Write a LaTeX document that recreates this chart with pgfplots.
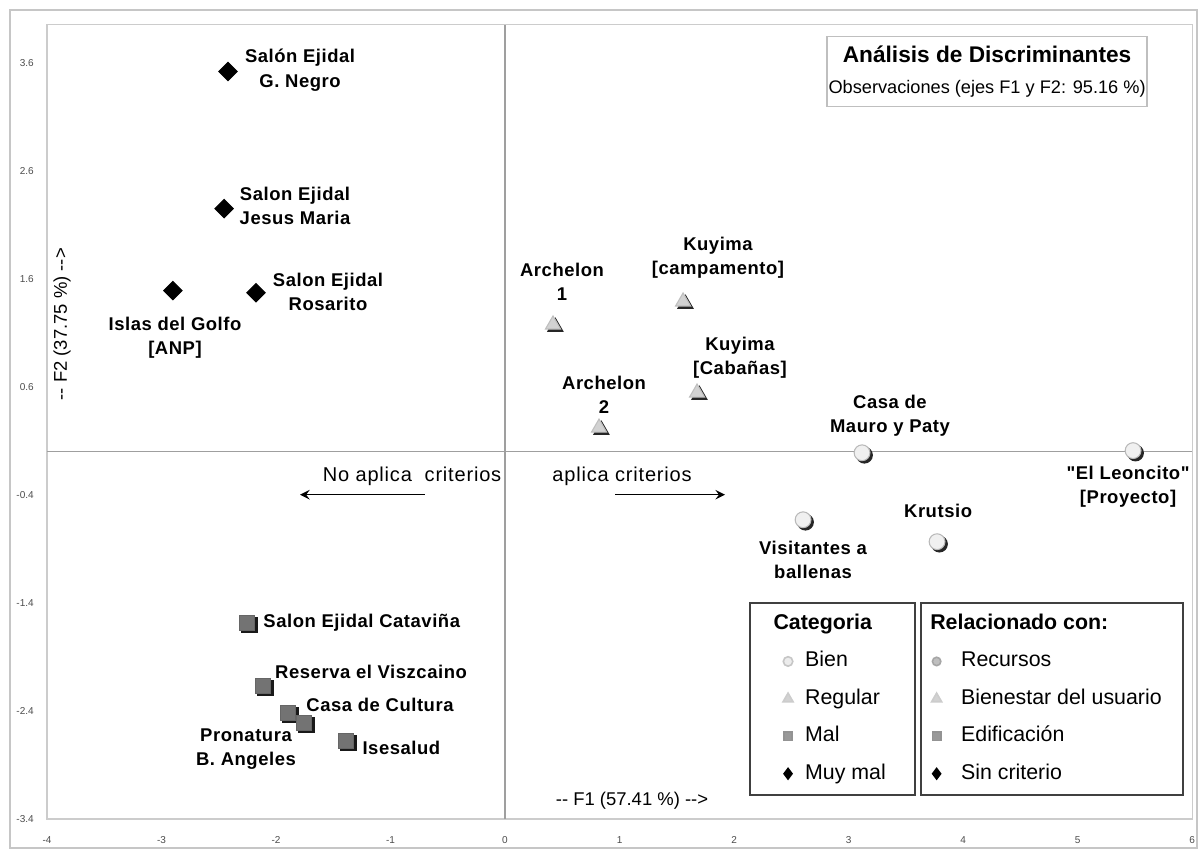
\documentclass[border=0pt]{standalone}
\usepackage{fontspec}
\setmainfont{Liberation Sans}
\usepackage{pgfplots}
\usepackage{pgfplotstable}
\pgfplotsset{compat=1.18}
\newfontfamily\lblfam{Liberation Sans}[LetterSpace=3]
\newfontfamily\arrfam{Liberation Sans}[LetterSpace=4]
\tikzset{lbl/.style={font=\lblfam\bfseries\fontsize{7}{9.3}\selectfont, inner sep=0pt}}

% observaciones por categoria (F1, F2)
\pgfplotstableread{
x y
3.118 -0.010
5.485 0.010
2.603 -0.630
3.773 -0.833
}\bien
\pgfplotstableread{
x y
0.419 1.176
1.555 1.389
1.677 0.546
0.821 0.222
}\regular
\pgfplotstableread{
x y
-2.253 -1.583
-2.114 -2.167
-1.895 -2.417
-1.755 -2.509
-1.389 -2.676
}\mal
\pgfplotstableread{
x y
-2.419 3.519
-2.454 2.250
-2.900 1.491
-2.175 1.472
}\muymal

\begin{document}
\begin{tikzpicture}
\useasboundingbox (-0.6267,-0.4533) rectangle (15.373,10.92);
\draw[gray!45, line width=0.8pt] (-0.4933,-0.3867) rectangle (15.333,10.787);

\begin{axis}[
  at={(0,0)}, anchor=south west,
  scale only axis,
  width=15.267cm, height=10.587cm,
  xmin=-4, xmax=6, ymin=-3.4, ymax=3.95,
  xtick={-4,-3,...,6},
  ytick={-3.4,-2.4,-1.4,-0.4,0.6,1.6,2.6,3.6},
  /pgf/number format/assume math mode=true,
  tick label style={font=\fontsize{3.8}{4}\selectfont, text=black!70},
  xticklabel style={yshift=-3pt},
  yticklabel style={xshift=-1.5pt, /pgf/number format/fixed, /pgf/number format/fixed zerofill, /pgf/number format/precision=1},
  tick style={draw=none},
  axis line style={gray!40},
  extra x ticks={0}, extra x tick labels={},
  extra y ticks={0}, extra y tick labels={},
  extra tick style={grid=major, major grid style={gray!75, line width=0.6pt}},
  clip=false,
  legend cell align=left,
  legend image code/.code={\path[draw=none, fill=none] (-4pt,0pt) -- (4pt,0pt); \draw[#1] plot coordinates {(0pt,0pt)};},
  legend style={at={(0.6131,0.2733)}, anchor=north west, draw=black!75, line width=0.6pt,
    fill=white, inner xsep=10.5pt, inner ysep=3.65pt, row sep=5.4pt, column sep=2pt,
    font=\fontsize{8.1}{9}\selectfont,
    nodes={inner sep=0.5pt, text height=6pt, text depth=1.8pt}},
]
% sombras y marcas
\addplot[forget plot, only marks, mark=*, mark size=3pt, black!85,
  mark options={xshift=0.9pt, yshift=-0.9pt}] table {\bien};
\addplot[forget plot, only marks, mark=*, mark size=3pt,
  mark options={fill=gray!12, draw=gray!55, line width=0.4pt}] table {\bien};
\addplot[forget plot, only marks, mark=triangle*, mark size=3.3pt, black!85,
  mark options={xshift=0.9pt, yshift=-0.9pt}] table {\regular};
\addplot[forget plot, only marks, mark=triangle*, mark size=3.3pt,
  mark options={fill=gray!35, draw=gray!50, line width=0.4pt}] table {\regular};
\addplot[forget plot, only marks, mark=square*, mark size=2.9pt, black!90,
  mark options={xshift=0.9pt, yshift=-0.9pt}] table {\mal};
\addplot[forget plot, only marks, mark=square*, mark size=2.9pt,
  mark options={fill=black!55, draw=black!60, line width=0.4pt}] table {\mal};
\addplot[forget plot, only marks, mark=square*, mark size=2.45pt, black,
  mark options={rotate=45}] table {\muymal};

% leyenda de categorias
\addlegendimage{empty legend}
\addlegendentry{\hspace*{-12pt}\textbf{Categoria}}
\addlegendimage{only marks, mark=*, mark size=1.8pt, mark options={fill=gray!15, draw=gray!45}}
\addlegendentry{Bien}
\addlegendimage{only marks, mark=triangle*, mark size=2.2pt, mark options={fill=gray!35, draw=gray!40}}
\addlegendentry{Regular}
\addlegendimage{only marks, mark=square*, mark size=1.6pt, mark options={fill=gray!80, draw=gray!85}}
\addlegendentry{Mal}
\addlegendimage{only marks, mark=diamond*, mark size=2pt, black}
\addlegendentry{Muy mal}

% etiquetas
\node[lbl, align=center] at (axis cs:-1.790,3.532) {Salón Ejidal\\G. Negro};
\node[lbl, align=center] at (axis cs:-1.834,2.273) {Salon Ejidal\\Jesus Maria};
\node[lbl, align=center] at (axis cs:-1.546,1.481) {Salon Ejidal\\Rosarito};
\node[lbl, align=center] at (axis cs:-2.882,1.056) {Islas del Golfo\\{[ANP]}};
\node[lbl, align=center] at (axis cs:0.498,1.574) {Archelon\\1};
\node[lbl, align=center] at (axis cs:1.860,1.796) {Kuyima\\{[campamento]}};
\node[lbl, align=center] at (axis cs:2.052,0.870) {Kuyima\\{[Cabañas]}};
\node[lbl, align=center] at (axis cs:0.865,0.528) {Archelon\\2};
\node[lbl, align=center] at (axis cs:3.362,0.333) {Casa de\\Mauro y Paty};
\node[lbl, align=center] at (axis cs:5.441,-0.324) {"El Leoncito"\\{[Proyecto]}};
\node[lbl] at (axis cs:3.782,-0.546) {Krutsio};
\node[lbl, align=center] at (axis cs:2.690,-1.000) {Visitantes a\\ballenas};
\node[lbl, anchor=west] at (axis cs:-2.114,-1.583) {Salon Ejidal Cataviña};
\node[lbl] at (axis cs:-1.170,-2.037) {Reserva el Viszcaino};
\node[lbl] at (axis cs:-1.092,-2.343) {Casa de Cultura};
\node[lbl, align=center] at (axis cs:-2.262,-2.755) {Pronatura\\B. Angeles};
\node[lbl, anchor=west] at (axis cs:-1.249,-2.741) {Isesalud};

% criterios
\node[font=\arrfam\fontsize{7.6}{9}\selectfont] at (axis cs:-0.812,-0.231) {No aplica\ \ criterios};
\node[font=\arrfam\fontsize{7.6}{9}\selectfont] at (axis cs:1.022,-0.231) {aplica criterios};
\draw[->, >=stealth, line width=0.6pt] (axis cs:-0.699,-0.398) -- (axis cs:-1.790,-0.398);
\draw[->, >=stealth, line width=0.6pt] (axis cs:0.961,-0.398) -- (axis cs:1.921,-0.398);

% ejes
\node[font=\fontsize{7}{8}\selectfont, rotate=90] at (axis cs:-3.869,1.18) {-{}- F2 (37.75 \%) -{}->};
\node[font=\fontsize{7}{8}\selectfont] at (axis cs:1.109,-3.231) {-{}- F1 (57.41 \%) -{}->};

% titulo
\node[draw=gray!50, line width=0.6pt, minimum width=4.267cm, minimum height=0.933cm,
  align=center, inner sep=0pt] at (axis cs:4.21,3.52)
  {{\bfseries\fontsize{8.6}{10}\selectfont Análisis de Discriminantes}\\[-0.5pt]
   {\fontsize{6.9}{8}\selectfont Observaciones (ejes F1 y F2: 95.16 \%)}};
\end{axis}

\begin{axis}[
  at={(0,0)}, anchor=south west,
  scale only axis, hide axis,
  width=15.267cm, height=10.587cm,
  xmin=-4, xmax=6, ymin=-3.4, ymax=3.95,
  legend cell align=left,
  legend image code/.code={\path[draw=none, fill=none] (-4pt,0pt) -- (4pt,0pt); \draw[#1] plot coordinates {(0pt,0pt)};},
  legend style={at={(0.7624,0.2733)}, anchor=north west, draw=black!75, line width=0.6pt,
    fill=white, inner xsep=2pt, inner ysep=3.65pt, row sep=5.4pt, column sep=4.8pt,
    font=\fontsize{8.1}{9}\selectfont,
    nodes={inner sep=0.5pt, text height=6pt, text depth=1.8pt}},
]
\addlegendimage{empty legend}
\addlegendentry{\hspace*{-11.7pt}\textbf{Relacionado con:}}
\addlegendimage{only marks, mark=*, mark size=1.6pt, mark options={fill=gray!50, draw=gray!70}}
\addlegendentry{Recursos}
\addlegendimage{only marks, mark=triangle*, mark size=2.2pt, mark options={fill=gray!35, draw=gray!40}}
\addlegendentry{Bienestar del usuario\hspace*{5.6pt}}
\addlegendimage{only marks, mark=square*, mark size=1.6pt, mark options={fill=gray!80, draw=gray!85}}
\addlegendentry{Edificación}
\addlegendimage{only marks, mark=diamond*, mark size=2pt, black}
\addlegendentry{Sin criterio}
\end{axis}
\end{tikzpicture}
\end{document}
